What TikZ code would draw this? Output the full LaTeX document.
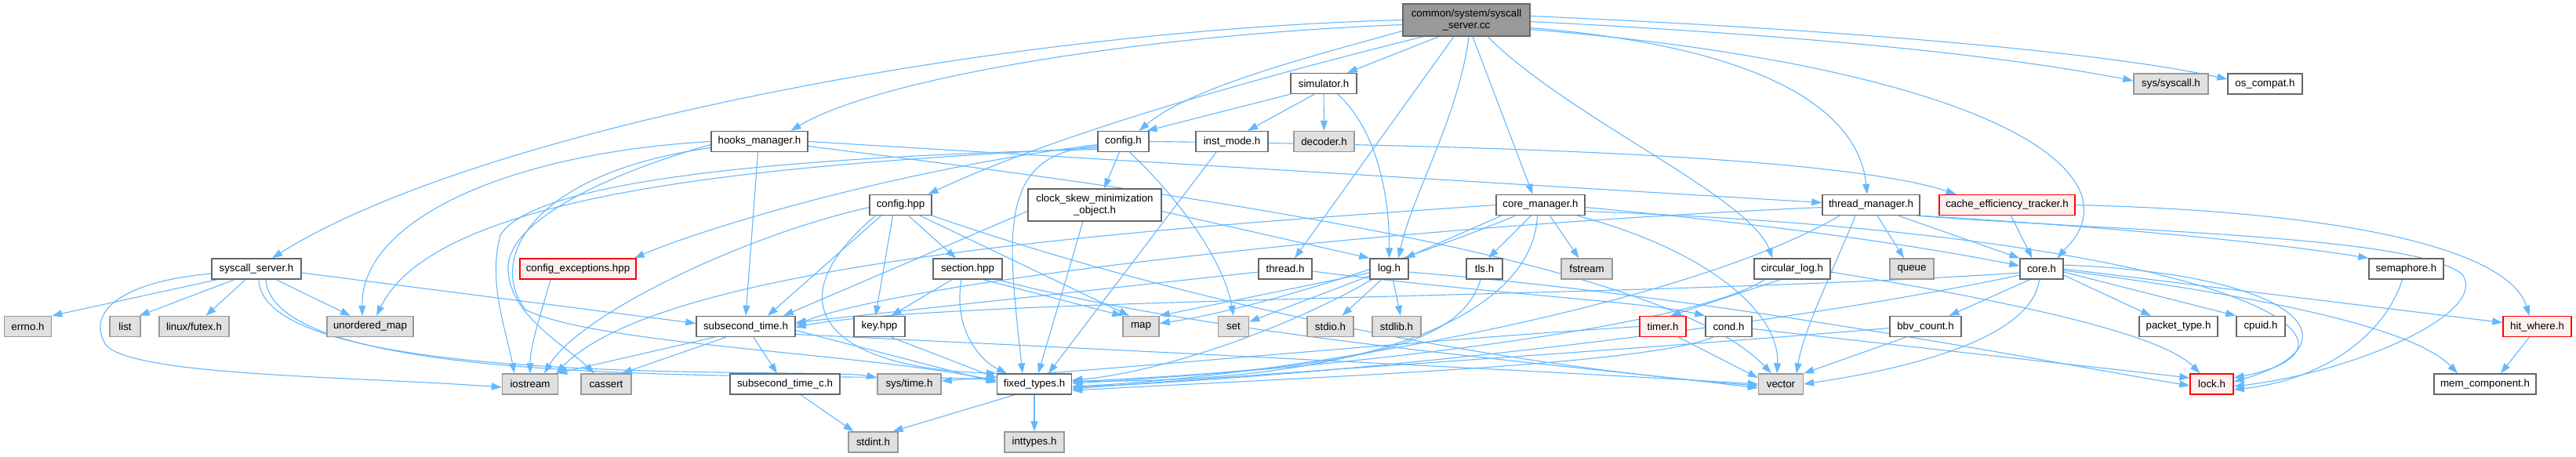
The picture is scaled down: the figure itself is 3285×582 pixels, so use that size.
\documentclass[tikz,border=0pt]{standalone}
\usepackage{fontspec}
\newfontfamily\doxfont{Liberation Sans}
\usetikzlibrary{arrows.meta}
\definecolor{eb}{HTML}{63B8FF}
\definecolor{ga}{HTML}{666666}
\definecolor{gb}{HTML}{999999}
\definecolor{gf}{HTML}{E0E0E0}
\definecolor{rf}{HTML}{FFF0F0}
\pgfdeclarelayer{bg}
\pgfdeclarelayer{edges}
\pgfsetlayers{bg,edges,main}
\begin{document}
\begin{tikzpicture}[x=1pt,y=-1pt,
  e/.style={draw=eb, line width=1.1pt, -{Triangle[length=13pt,width=9pt]}},
  bx/.style={rectangle, line width=1.4pt, minimum height=26pt, inner sep=0pt, text=black,
    font=\doxfont\fontsize{13.3pt}{15pt}\selectfont},
  wn/.style={bx, draw=ga, fill=white},
  gn/.style={bx, draw=gb, fill=gf},
  rn/.style={bx, draw=red, fill=rf},
  mn/.style={bx, draw=ga, fill=gb, minimum height=41pt, align=center}]
\useasboundingbox (0,0) rectangle (3285,582);
\begin{pgfonlayer}{bg}
\fill[white] (0,0) rectangle (3285,582);
\end{pgfonlayer}
% nodes
\node[mn, minimum width=162pt] (main) at (1870,25.5) {common/system/syscall\\\_server.cc};
\node[wn, minimum width=84pt] (simulator) at (1688,106.5) {simulator.h};
\node[gn, minimum width=95pt] (syscall) at (2768.5,107) {sys/syscall.h};
\node[wn, minimum width=95pt] (oscompat) at (2888.5,107) {os\_compat.h};
\node[wn, minimum width=123pt] (hooks) at (968.5,180.5) {hooks\_manager.h};
\node[wn, minimum width=65pt] (configh) at (1432.5,180.5) {config.h};
\node[wn, minimum width=92pt] (instmode) at (1571,180.5) {inst\_mode.h};
\node[gn, minimum width=77pt] (decoder) at (1688.5,180.5) {decoder.h};
\node[wn, minimum width=79pt] (confighpp) at (1148.5,261.5) {config.hpp};
\node[wn, minimum width=170pt, minimum height=41pt, align=center] (clockskew) at (1396,261.5) {clock\_skew\_minimization\\\_object.h};
\node[wn, minimum width=113pt] (coremgr) at (1964.5,261.5) {core\_manager.h};
\node[wn, minimum width=124pt] (threadmgr) at (2386,261.5) {thread\_manager.h};
\node[rn, minimum width=173pt] (cacheeff) at (2559.5,261.5) {cache\_efficiency\_tracker.h};
\node[wn, minimum width=114pt] (syssrvh) at (327,343) {syscall\_server.h};
\node[rn, minimum width=148pt] (confexc) at (737,343) {config\_exceptions.hpp};
\node[wn, minimum width=88pt] (section) at (1234,343) {section.hpp};
\node[wn, minimum width=68pt] (thread) at (1639,343) {thread.h};
\node[wn, minimum width=49pt] (log) at (1771.5,343) {log.h};
\node[wn, minimum width=46pt] (tls) at (1893,343) {tls.h};
\node[gn, minimum width=65pt] (fstream) at (2023.5,343) {fstream};
\node[wn, minimum width=97pt] (circlog) at (2285.5,343) {circular\_log.h};
\node[gn, minimum width=56pt] (queue) at (2438,343) {queue};
\node[wn, minimum width=55pt] (core) at (2603.5,343) {core.h};
\node[wn, minimum width=95pt] (semaphore) at (3068.5,343) {semaphore.h};
\node[gn, minimum width=60pt] (errno) at (35.5,416.5) {errno.h};
\node[gn, minimum width=39pt] (list) at (159.5,416.5) {list};
\node[gn, minimum width=89pt] (futex) at (247.5,416.5) {linux/futex.h};
\node[gn, minimum width=110pt] (umap) at (472,416.5) {unordered\_map};
\node[wn, minimum width=126pt] (subsec) at (951,416.5) {subsecond\_time.h};
\node[wn, minimum width=65pt] (key) at (1121.5,416.5) {key.hpp};
\node[gn, minimum width=46pt] (map) at (1455,416.5) {map};
\node[gn, minimum width=39pt] (set) at (1573,416.5) {set};
\node[gn, minimum width=59pt] (stdio) at (1696.5,416.5) {stdio.h};
\node[gn, minimum width=62pt] (stdlib) at (1781,416.5) {stdlib.h};
\node[rn, minimum width=59pt] (timer) at (2120.5,416.5) {timer.h};
\node[wn, minimum width=59pt] (cond) at (2204.5,416.5) {cond.h};
\node[wn, minimum width=91pt] (bbv) at (2455.5,416.5) {bbv\_count.h};
\node[wn, minimum width=100pt] (packet) at (2778,416.5) {packet\_type.h};
\node[wn, minimum width=62pt] (cpuid) at (2883,416.5) {cpuid.h};
\node[rn, minimum width=87pt] (hitwhere) at (3235.5,416.5) {hit\_where.h};
\node[gn, minimum width=71pt] (iostream) at (676,490) {iostream};
\node[gn, minimum width=64pt] (cassert) at (773,490) {cassert};
\node[wn, minimum width=140pt] (subsecc) at (1001,490) {subsecond\_time\_c.h};
\node[gn, minimum width=81pt] (systime) at (1159.5,490) {sys/time.h};
\node[wn, minimum width=95pt] (fixed) at (1319,490) {fixed\_types.h};
\node[gn, minimum width=57pt] (vector) at (2271,490) {vector};
\node[rn, minimum width=55pt] (lock) at (2820.5,490) {lock.h};
\node[wn, minimum width=130pt] (memcomp) at (3169,490) {mem\_component.h};
\node[gn, minimum width=63pt] (stdint) at (1113.5,564) {stdint.h};
\node[gn, minimum width=76pt] (inttypes) at (1319,564) {inttypes.h};
\begin{pgfonlayer}{edges}
% main
\draw[e] (main.west) .. controls (1250,40) and (600,170) .. ([xshift=20pt]syssrvh.north);
\draw[e] ([yshift=-6pt]main.west) .. controls (1450,45) and (1120,100) .. ([xshift=40pt]hooks.north);
\draw[e] ([yshift=-14pt]main.west) .. controls (1680,70) and (1520,110) .. ([xshift=20pt]configh.north);
\draw[e] ([xshift=-55pt]main.south) .. controls (1600,100) and (1350,170) .. ([xshift=35pt]confighpp.north);
\draw[e] ([xshift=-35pt]main.south) -- ([xshift=30pt]simulator.north);
\draw[e] ([xshift=-16pt]main.south) -- ([xshift=12pt]thread.north);
\draw[e] ([xshift=3pt]main.south) .. controls (1860,150) and (1800,250) .. ([xshift=12pt]log.north);
\draw[e] ([xshift=8pt]main.south) -- ([xshift=-10pt]coremgr.north);
\draw[e] ([xshift=27pt]main.south) .. controls (2000,150) and (2230,250) .. ([xshift=-25pt]circlog.north);
\draw[e] ([yshift=-10pt]main.east) .. controls (2250,60) and (2370,140) .. ([xshift=-5pt]threadmgr.north);
\draw[e] ([yshift=-12pt]main.east) .. controls (2350,70) and (2620,150) .. (2655,250) .. controls (2665,290) and (2640,310) .. ([xshift=20pt]core.north);
\draw[e] ([yshift=-2pt]main.east) .. controls (2300,45) and (2550,70) .. ([yshift=4pt]syscall.west);
\draw[e] ([yshift=5pt]main.east) .. controls (2400,40) and (2700,70) .. ([yshift=6pt]oscompat.west);
% simulator
\draw[e] (simulator.south west) -- ([xshift=-3pt]configh.north east);
\draw[e] ([xshift=-12pt]simulator.south) -- ([xshift=20pt]instmode.north);
\draw[e] (simulator.south) -- (decoder.north);
\draw[e] ([xshift=18pt]simulator.south) .. controls (1760,170) and (1772,260) .. (log.north);
% hooks
\draw[e] (hooks.west) .. controls (650,195) and (460,280) .. ([xshift=-10pt]umap.north);
\draw[e] ([yshift=-4pt]hooks.west) .. controls (780,220) and (650,280) .. (648,340) .. controls (646,400) and (720,440) .. ([xshift=-15pt]cassert.north);
\draw[e] ([yshift=-8pt]hooks.west) .. controls (680,220) and (620,330) .. (670,395) .. controls (760,440) and (1100,450) .. ([yshift=4pt]fixed.west);
\draw[e] ([xshift=-2pt]hooks.south) -- (subsec.north);
\draw[e] (hooks.east) -- ([yshift=3pt]threadmgr.west);
\draw[e] ([yshift=-6pt]hooks.east) .. controls (1500,245) and (2120,330) .. ([xshift=-12pt]vector.north);
% config.h
\draw[e] ([yshift=-8pt]configh.west) .. controls (1000,210) and (560,240) .. ([xshift=8pt]umap.north);
\draw[e] ([yshift=-4pt]configh.west) .. controls (1150,215) and (900,290) .. ([xshift=-3pt]confexc.north east);
\draw[e] ([yshift=-10pt]configh.west) .. controls (1000,200) and (680,230) .. (638,300) .. controls (622,360) and (645,420) .. ([xshift=-20pt]iostream.north);
\draw[e] ([yshift=-6pt]configh.west) .. controls (1270,195) and (1285,300) .. ([xshift=-15pt]fixed.north);
\draw[e] ([xshift=-5pt]configh.south) -- ([xshift=12pt]clockskew.north);
\draw[e] ([xshift=8pt]configh.south) .. controls (1500,250) and (1560,330) .. (set.north);
\draw[e] (configh.east) .. controls (1900,185) and (2350,200) .. ([xshift=-65pt]cacheeff.north);
% config.hpp
\draw[e] ([yshift=-3pt]confighpp.west) .. controls (950,300) and (740,400) .. ([xshift=18pt]iostream.north);
\draw[e] ([xshift=-25pt]confighpp.south) -- ([xshift=28pt]subsec.north);
\draw[e] ([xshift=-10pt]confighpp.south) -- ([xshift=-5pt]key.north);
\draw[e] ([xshift=10pt]confighpp.south) -- ([xshift=-15pt]section.north);
\draw[e] ([xshift=25pt]confighpp.south) -- ([xshift=-15pt]map.north);
\draw[e] (confighpp.south east) .. controls (1550,400) and (1950,470) .. ([yshift=-2pt]vector.west);
\draw[e] ([xshift=-32pt]confighpp.south) .. controls (980,390) and (1060,470) .. (fixed.north west);
% config_exceptions
\draw[e] ([xshift=-35pt]confexc.south) .. controls (690,400) and (676,440) .. (iostream.north);
% clock skew
\draw[e] ([yshift=-8pt]clockskew.west) -- ([xshift=48pt]subsec.north);
\draw[e] ([xshift=-15pt]clockskew.south) -- ([xshift=5pt]fixed.north);
\draw[e] ([yshift=-8pt]clockskew.east) -- (log.north west);
% inst_mode
\draw[e] ([xshift=-20pt]instmode.south) -- ([xshift=18pt]fixed.north);
% syscall_server.h
\draw[e] ([xshift=-50pt]syssrvh.south) -- (errno.north east);
\draw[e] ([xshift=-28pt]syssrvh.south) -- ([xshift=-2pt]list.north east);
\draw[e] ([xshift=-14pt]syssrvh.south) -- ([xshift=15pt]futex.north);
\draw[e] ([xshift=25pt]syssrvh.south) -- ([xshift=-25pt]umap.north);
\draw[e] ([yshift=-6pt]syssrvh.west) .. controls (150,360) and (110,400) .. (135,440) .. controls (170,480) and (450,480) .. ([yshift=-4pt]iostream.west);
\draw[e] ([yshift=-5pt]syssrvh.east) -- ([yshift=4pt]subsec.west);
\draw[e] ([xshift=3pt]syssrvh.south) .. controls (335,500) and (1050,468) .. ([yshift=8pt]systime.west);
\draw[e] ([xshift=12pt]syssrvh.south) .. controls (350,500) and (1000,475) .. ([yshift=6pt]fixed.west);
% subsecond_time.h
\draw[e] ([xshift=-40pt]subsec.south) -- ([xshift=-2pt]iostream.north east);
\draw[e] ([xshift=-25pt]subsec.south) -- ([xshift=20pt]cassert.north);
\draw[e] ([xshift=10pt]subsec.south) -- ([xshift=-10pt]subsecc.north);
\draw[e] ([yshift=-5pt]subsec.east) -- ([yshift=2pt]fixed.west);
\draw[e] ([yshift=-10pt]subsec.east) .. controls (1500,450) and (2000,475) .. (vector.west);
% lower
\draw[e] ([xshift=20pt]subsecc.south) -- ([xshift=-25pt]stdint.north);
\draw[e] ([xshift=-25pt]fixed.south) -- ([xshift=25pt]stdint.north);
\draw[e] (fixed.south) -- (inttypes.north);
\draw[e] ([xshift=15pt]key.south) -- ([yshift=8pt]fixed.west);
% section
\draw[e] ([xshift=-20pt]section.south) -- ([xshift=15pt]key.north);
\draw[e] ([xshift=-8pt]section.south) .. controls (1215,420) and (1250,460) .. ([xshift=-35pt]fixed.north);
\draw[e] ([xshift=20pt]section.south) -- (map.north west);
\draw[e] ([xshift=38pt]section.south) .. controls (1550,430) and (2000,465) .. ([yshift=-5pt]vector.west);
% thread.h
\draw[e] ([yshift=-4pt]thread.west) -- ([yshift=5pt]subsec.east);
\draw[e] ([yshift=-3pt]thread.east) .. controls (1900,375) and (2100,385) .. (cond.north west);
% log.h
\draw[e] ([yshift=-5pt]log.west) -- (map.north east);
\draw[e] ([yshift=-9pt]log.west) -- ([yshift=6pt]set.east);
\draw[e] ([xshift=-10pt]log.south) -- ([xshift=15pt]stdio.north);
\draw[e] ([xshift=5pt]log.south) -- ([xshift=5pt]stdlib.north);
\draw[e] ([xshift=-22pt]log.south) .. controls (1640,420) and (1480,475) .. ([yshift=5pt]fixed.east);
\draw[e] ([yshift=-4pt]log.east) .. controls (2200,380) and (2600,460) .. ([yshift=-2pt]lock.west);
% tls.h
\draw[e] ([xshift=-5pt]tls.south) .. controls (1860,450) and (1700,470) .. ([yshift=3pt]fixed.east);
% circular_log.h
\draw[e] ([xshift=-15pt]circlog.south) -- ([xshift=10pt]timer.north);
\draw[e] ([xshift=-35pt]circlog.south) .. controls (2150,420) and (1700,470) .. ([yshift=1pt]fixed.east);
\draw[e] ([yshift=-4pt]circlog.east) .. controls (2600,390) and (2760,430) .. ([xshift=-15pt]lock.north);
% core_manager.h
\draw[e] (coremgr.west) .. controls (1500,290) and (850,330) .. ([xshift=-3pt]iostream.north east);
\draw[e] ([xshift=-50pt]coremgr.south) -- ([xshift=20pt]log.north);
\draw[e] ([xshift=-32pt]coremgr.south) .. controls (1800,330) and (1600,395) .. ([yshift=4pt]map.east);
\draw[e] ([xshift=-12pt]coremgr.south) -- ([xshift=5pt]tls.north);
\draw[e] ([xshift=-4pt]coremgr.south) .. controls (1955,400) and (1750,490) .. ([yshift=4pt]fixed.east);
\draw[e] ([xshift=12pt]coremgr.south) -- ([xshift=-10pt]fstream.north);
\draw[e] ([yshift=-3pt]coremgr.east) .. controls (2300,290) and (2480,320) .. ([yshift=4pt]core.west);
\draw[e] ([yshift=-8pt]coremgr.east) .. controls (2850,300) and (3060,440) .. ([yshift=8pt]lock.east);
\draw[e] ([xshift=-10pt]coremgr.south east) .. controls (2180,320) and (2270,400) .. ([xshift=-5pt]vector.north);
% thread_manager.h
\draw[e] ([yshift=-3pt]threadmgr.west) .. controls (1750,290) and (1150,360) .. ([yshift=2pt]subsec.east);
\draw[e] ([xshift=-40pt]threadmgr.south) .. controls (2150,390) and (1650,480) .. ([yshift=-3pt]fixed.east);
\draw[e] ([xshift=8pt]threadmgr.south) -- ([xshift=-10pt]queue.north);
\draw[e] ([xshift=-20pt]threadmgr.south) .. controls (2340,340) and (2300,420) .. ([xshift=20pt]vector.north);
\draw[e] ([xshift=35pt]threadmgr.south) -- (core.north west);
\draw[e] (threadmgr.south east) .. controls (2700,290) and (2900,310) .. (semaphore.north west);
\draw[e] ([xshift=-4pt]threadmgr.south east) .. controls (2700,295) and (3080,300) .. (3140,350) .. controls (3175,400) and (3000,475) .. ([yshift=-3pt]lock.east);
% cache_efficiency_tracker.h
\draw[e] ([xshift=5pt]cacheeff.south) -- ([xshift=-12pt]core.north);
\draw[e] (cacheeff.east) .. controls (3000,270) and (3200,320) .. ([xshift=-10pt]hitwhere.north);
% core.h
\draw[e] ([yshift=-5pt]core.west) .. controls (2100,380) and (1200,380) .. ([yshift=-1pt]subsec.east);
\draw[e] ([yshift=-8pt]core.west) .. controls (2250,420) and (1700,480) .. ([yshift=-4pt]fixed.east);
\draw[e] ([xshift=-15pt]core.south) -- ([xshift=30pt]bbv.north);
\draw[e] ([xshift=-3pt]core.south) .. controls (2590,440) and (2400,475) .. (vector.east);
\draw[e] ([yshift=-8pt]core.east) -- ([xshift=-35pt]packet.north);
\draw[e] ([yshift=-4pt]core.east) -- (cpuid.north west);
\draw[e] (core.east) -- ([yshift=5pt]hitwhere.west);
\draw[e] ([yshift=-2pt]core.east) .. controls (2900,380) and (3080,420) .. ([xshift=-35pt]memcomp.north);
\draw[e] ([yshift=5pt]core.east) .. controls (2940,350) and (3010,440) .. ([yshift=3pt]lock.east);
\draw[e] ([xshift=-5pt]semaphore.south) .. controls (3040,430) and (2960,485) .. ([yshift=-7pt]lock.east);
% bbv, timer, cond, hit_where
\draw[e] ([yshift=-2pt]bbv.west) .. controls (2100,445) and (1700,470) .. ([yshift=-6pt]fixed.east);
\draw[e] ([xshift=-25pt]bbv.south) -- (vector.north east);
\draw[e] (timer.west) .. controls (1800,435) and (1500,465) .. ([yshift=4pt]systime.east);
\draw[e] ([xshift=20pt]timer.south) -- ([yshift=8pt]vector.west);
\draw[e] ([xshift=-20pt]cond.south) .. controls (2100,465) and (1700,480) .. ([yshift=-8pt]fixed.east);
\draw[e] ([yshift=-3pt]cond.east) -- ([yshift=8pt]lock.west);
\draw[e] ([xshift=-10pt]hitwhere.south) -- ([xshift=20pt]memcomp.north);
\end{pgfonlayer}
\end{tikzpicture}
\end{document}
